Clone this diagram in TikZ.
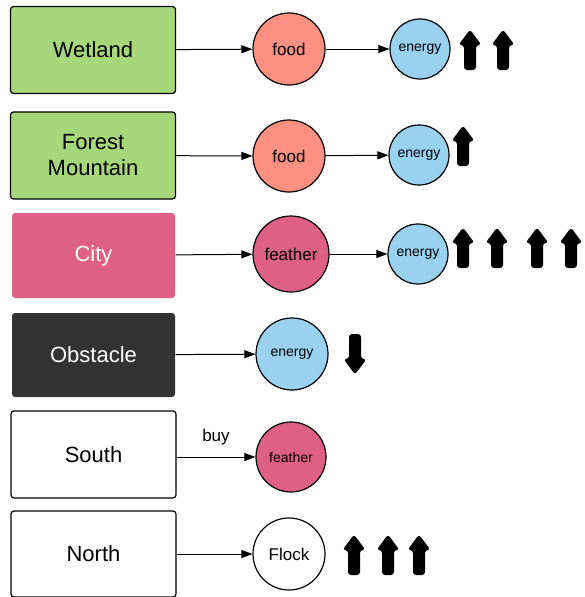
\documentclass[tikz,border=0pt]{standalone}
\usepackage{fontspec}
\setmainfont{Liberation Sans}
\usetikzlibrary{arrows.meta}
\definecolor{landgreen}{RGB}{166,216,123}
\definecolor{foodred}{RGB}{253,144,128}
\definecolor{energyblue}{RGB}{153,210,240}
\definecolor{featherpink}{RGB}{222,96,135}
\definecolor{obstgray}{RGB}{51,51,51}

\tikzset{
  place/.style={draw, line width=1.2pt, rounded corners=3pt, minimum width=165pt, minimum height=87pt, font=\fontsize{22}{26}\selectfont},
  blob/.style={circle, draw, line width=1.2pt, inner sep=0pt, font=\fontsize{17}{20}\selectfont},
  link/.style={line width=1pt, -{Triangle[length=11pt,width=8pt]}},
  trend/.pic={
    \fill[black, rounded corners=3pt] (-6,20) -- (-6,-5) -- (-11.5,-5) -- (0,-20.5) -- (11.5,-5) -- (6,-5) -- (6,20) -- cycle;
  },
}

\begin{document}
\begin{tikzpicture}[x=1pt, y=-1pt]
    \useasboundingbox (0,0) rectangle (585,597);

    % Places
    \node[place, fill=landgreen] (wet) at (93,50) {Wetland};
    \node[place, fill=landgreen, align=center] (forest) at (93,155.5) {Forest\\Mountain};
    \node[place, draw=none, fill=featherpink, text=white, minimum width=163pt, minimum height=85pt] (city) at (93.5,255.5) {City};
    \node[place, draw=none, fill=obstgray, text=white, minimum width=163pt, minimum height=84pt] (obst) at (93.5,355) {Obstacle};
    \node[place] (south) at (93.5,454.5) {South};
    \node[place, minimum height=86pt] (north) at (93.5,554) {North};

    % Row 1
    \node[blob, fill=foodred, minimum size=72pt] (food1) at (289,49) {food};
    \node[blob, fill=energyblue, minimum size=60pt, font=\fontsize{14}{16}\selectfont] (energy1) at (420,49) {energy};
    \draw[link] (wet) -- (food1);
    \draw[link] (food1) -- (energy1);
    \foreach \x in {470,503}
        \pic at (\x,50) {trend};

    % Row 2
    \node[blob, fill=foodred, minimum size=72pt] (food2) at (289,156) {food};
    \node[blob, fill=energyblue, minimum size=60pt, font=\fontsize{14}{16}\selectfont] (energy2) at (419,155) {energy};
    \draw[link] (forest) -- (food2);
    \draw[link] (food2) -- (energy2);
    \pic at (463,146) {trend};

    % Row 3
    \node[blob, fill=featherpink, minimum size=76pt] (feather3) at (291,254) {feather};
    \node[blob, fill=energyblue, minimum size=60pt, font=\fontsize{14}{16}\selectfont] (energy3) at (418,254) {energy};
    \draw[link] (city) -- (feather3);
    \draw[link] (feather3) -- (energy3);
    \foreach \x in {463,497,537,571}
        \pic at (\x,248) {trend};

    % Row 4
    \node[blob, fill=energyblue, minimum size=72pt, font=\fontsize{14}{16}\selectfont] (energy4) at (292,354) {energy};
    \draw[link] (obst) -- (energy4);
    \pic[rotate=180] at (355,354) {trend};

    % Row 5
    \node[blob, fill=featherpink, minimum size=70pt, font=\fontsize{14}{16}\selectfont] (feather5) at (291,457) {feather};
    \draw[link] (south.east |- feather5) -- (feather5) node[midway, above=8pt, font=\fontsize{17}{20}\selectfont] (buy) {buy};

    % Row 6
    \node[blob, fill=white, minimum size=72pt] (flock) at (289,554) {Flock};
    \draw[link] (north) -- (flock);
    \foreach \x in {354,388,419}
        \pic at (\x,555) {trend};
\end{tikzpicture}
\end{document}
